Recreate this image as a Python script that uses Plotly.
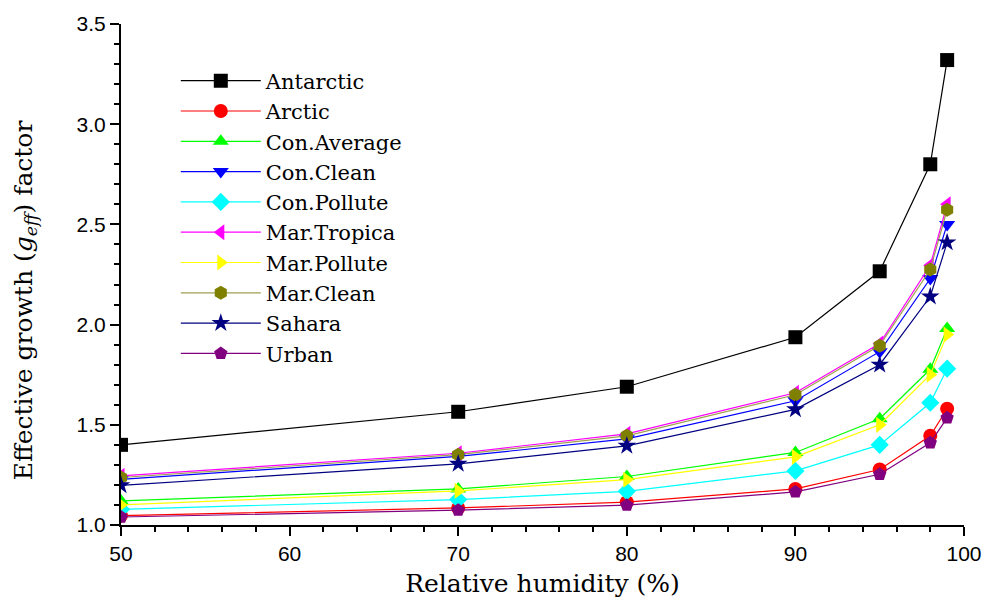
import plotly.graph_objects as go

rh = [50, 70, 80, 90, 95, 98, 99]

names = ["Antarctic", "Arctic", "Con.Average", "Con.Clean", "Con.Pollute",
         "Mar.Tropica", "Mar.Pollute", "Mar.Clean", "Sahara", "Urban"]

antarctic = [1.40, 1.565, 1.69, 1.937, 2.266, 2.80, 3.32]
arctic = [1.047, 1.085, 1.114, 1.18, 1.277, 1.445, 1.58]
con_average = [1.12, 1.18, 1.242, 1.362, 1.53, 1.777, 1.98]
con_clean = [1.228, 1.342, 1.43, 1.62, 1.865, 2.23, 2.50]
con_pollute = [1.078, 1.127, 1.168, 1.27, 1.40, 1.61, 1.78]
mar_tropica = [1.245, 1.358, 1.455, 1.66, 1.905, 2.296, 2.60]
mar_pollute = [1.10, 1.17, 1.226, 1.34, 1.50, 1.75, 1.95]
mar_clean = [1.237, 1.351, 1.445, 1.65, 1.895, 2.275, 2.573]
sahara = [1.198, 1.305, 1.395, 1.577, 1.80, 2.14, 2.41]
urban = [1.04, 1.074, 1.099, 1.165, 1.253, 1.41, 1.535]

series = [antarctic, arctic, con_average, con_clean, con_pollute,
          mar_tropica, mar_pollute, mar_clean, sahara, urban]

colors = ["#000000", "#ff0000", "#00ff00", "#0000ff", "#00ffff",
          "#ff00ff", "#ffff00", "#808000", "#000080", "#800080"]
line_colors = ["#000000", "#ff0000", "#00ff00", "#0000ff", "#00ffff",
               "#ff00ff", "#ffff00", "#a0a050", "#000080", "#800080"]
symbols = ["square", "circle", "triangle-up", "triangle-down", "diamond",
           "triangle-left", "triangle-right", "hexagon", "star", "pentagon"]

fig = go.Figure()
for name, ys, c, lc, s in zip(names, series, colors, line_colors, symbols):
    fig.add_trace(go.Scatter(
        x=rh, y=ys, name=name, mode="lines+markers",
        line=dict(color=lc, width=1.2),
        marker=dict(symbol=s, color=c, size=14, line=dict(width=0)),
    ))

serif = "DejaVu Serif"
sans = "Liberation Sans"

fig.update_layout(
    width=994, height=605,
    margin=dict(l=121, r=28, t=19, b=80),
    plot_bgcolor="white", paper_bgcolor="white",
    showlegend=True,
    legend=dict(
        x=0.065, y=0.927, xanchor="left", yanchor="top",
        font=dict(family=serif, size=21, color="black"),
        bgcolor="rgba(0,0,0,0)", tracegroupgap=0, itemwidth=80,
    ),
    xaxis=dict(
        range=[50, 100], dtick=10, tick0=50,
        showgrid=False, zeroline=False,
        showline=True, linecolor="black", linewidth=2,
        ticks="outside", ticklen=9, tickwidth=2, tickcolor="black",
        minor=dict(dtick=2, ticks="outside", ticklen=5, tickwidth=2, tickcolor="black"),
        tickfont=dict(family=sans, size=21, color="black"),
        title=dict(text="Relative humidity (%)", font=dict(family=serif, size=25, color="black"), standoff=10),
    ),
    yaxis=dict(
        range=[1.0, 3.5], dtick=0.5, tick0=1.0, tickformat=".1f",
        showgrid=False, zeroline=False,
        showline=True, linecolor="black", linewidth=2,
        ticks="outside", ticklen=9, tickwidth=2, tickcolor="black",
        minor=dict(dtick=0.1, ticks="outside", ticklen=5, tickwidth=2, tickcolor="black"),
        tickfont=dict(family=sans, size=21, color="black"),
    ),
    annotations=[dict(
        text="Effective growth (<i>g<sub>eff</sub></i>) factor",
        xref="paper", yref="paper", x=-0.1136, y=0.449,
        xanchor="center", yanchor="middle", textangle=-90, showarrow=False,
        font=dict(family=serif, size=25, color="black"),
    )],
)

fig.write_html("out.html")
